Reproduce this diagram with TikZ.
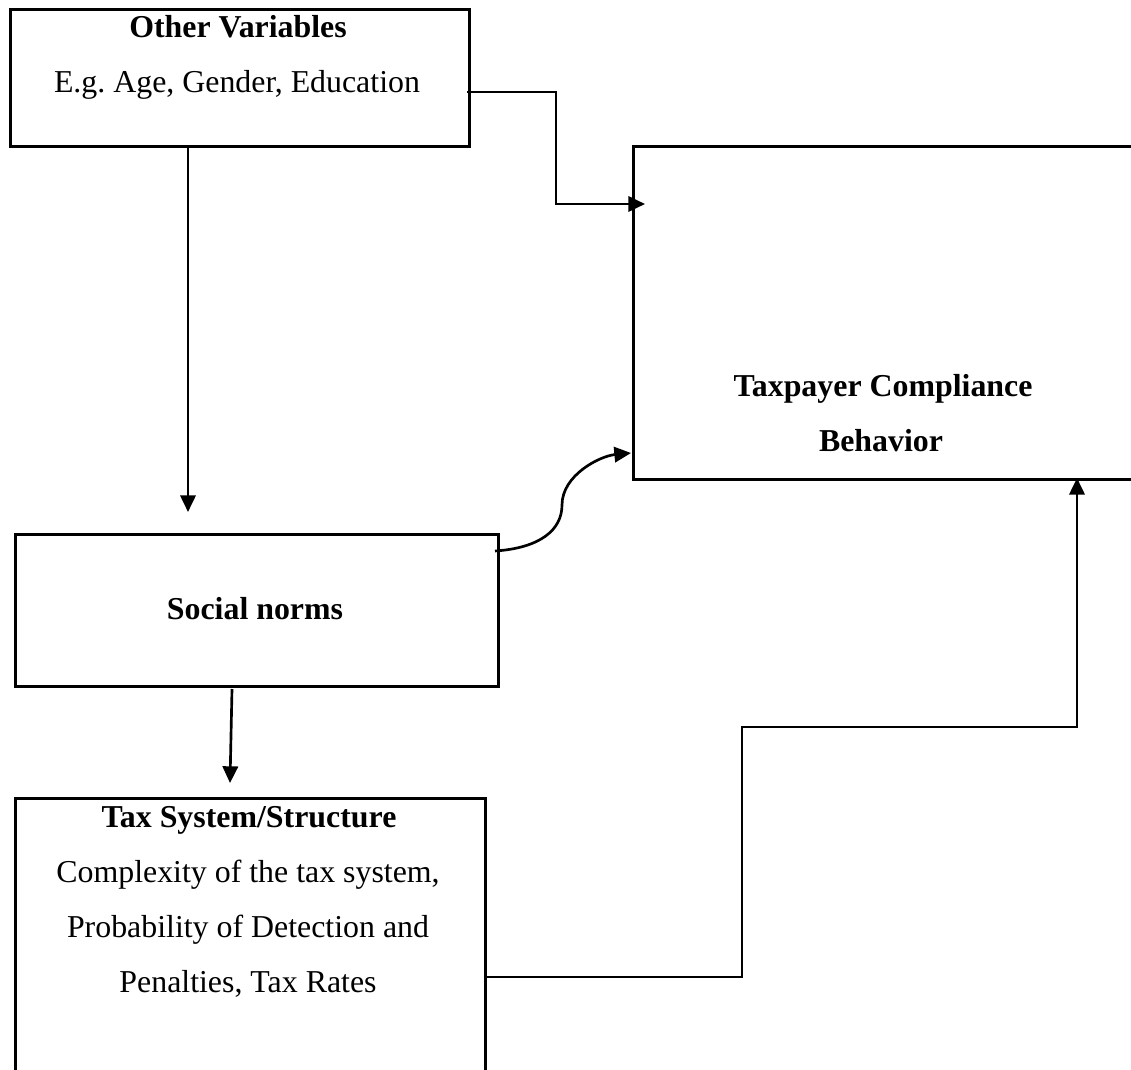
\documentclass[tikz,border=0pt]{standalone}
\usepackage{fontspec}
\setmainfont{Liberation Serif}
\usetikzlibrary{arrows.meta}
\frenchspacing
\begin{document}
\begin{tikzpicture}[x=0.75pt,y=-0.75pt,
  box/.style={draw, line width=1.9pt, inner sep=0pt, anchor=north west},
  txt/.style={font=\fontsize{23.9}{28}\selectfont, inner sep=0pt, anchor=base},
  ttl/.style={inner sep=0pt, anchor=base, font=\fontsize{23.9}{28}\selectfont\bfseries},
  conn/.style={line width=2pt, -{Triangle[length=12.5pt,width=11.5pt]}}]
\clip (0,0) rectangle (1131,1070);
% boxes
\node[box, minimum width={459*0.75pt}, minimum height={137*0.75pt}] (ov) at (9,8) {};
\node[box, minimum width={540*0.75pt}, minimum height={333*0.75pt}] (tc) at (632,145) {};
\node[box, minimum width={483*0.75pt}, minimum height={152*0.75pt}] (sn) at (14,533) {};
\node[box, minimum width={470*0.75pt}, minimum height={320*0.75pt}] (ts) at (14,797) {};
% texts
\node[ttl] (ovt) at (238,38) {Other Variables};
\node[txt] (ovs) at (237,93) {E.g. Age, Gender, Education};
\node[ttl] (tct1) at (883,396) {Taxpayer Compliance};
\node[ttl] (tct2) at (881,451) {Behavior};
\node[ttl] (snt) at (255,619) {Social norms};
\node[ttl] (tst) at (249,827) {Tax System/Structure};
\node[txt] (tsa) at (248,882) {Complexity of the tax system,};
\node[txt] (tsb) at (248,937) {Probability of Detection and};
\node[txt] (tsc) at (248,992) {Penalties, Tax Rates};
% connector end points
\coordinate (a1s) at (188,145);
\coordinate (a1e) at (188,512);
\coordinate (a2s) at (467,92);
\coordinate (a2e) at (645,204);
\coordinate (a3s) at (495,551);
\coordinate (a3m) at (562,505);
\coordinate (a3e) at (631,453);
\coordinate (a4s) at (232,689);
\coordinate (a4e) at (230,783);
\coordinate (a5s) at (484,977);
\coordinate (a5e) at (1077,478);
% connectors
\draw[conn] (a1s) -- (a1e);
\draw[conn] (a2s) -- (556,92) -- (556,204) -- (a2e);
\draw[conn] (a3s) .. controls (540,548) and (562,530) .. (a3m)
  .. controls (562,475) and (600,456) .. (a3e);
\draw[conn] (a4s) -- (a4e);
\draw[conn] (a5s) -- (742,977) -- (742,727) -- (1077,727) -- (a5e);
\end{tikzpicture}
\end{document}
